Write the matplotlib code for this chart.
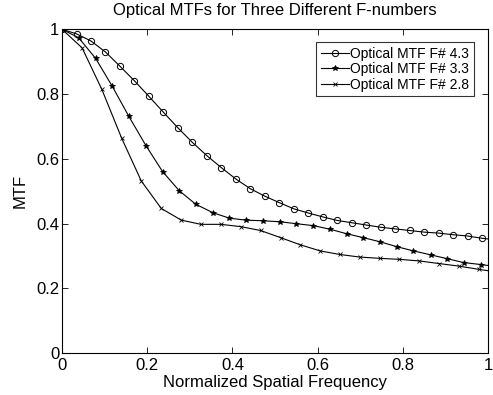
import matplotlib
matplotlib.use('Agg')
import matplotlib.pyplot as plt

plt.rcParams['font.family'] = ['Liberation Sans', 'DejaVu Sans']

# F# 4.3
freq_43 = [0.0, 0.034, 0.068, 0.102, 0.136, 0.170, 0.204, 0.238, 0.272, 0.306,
           0.340, 0.374, 0.408, 0.442, 0.476, 0.510, 0.544, 0.578, 0.612, 0.646,
           0.680, 0.714, 0.748, 0.782, 0.816, 0.850, 0.884, 0.918, 0.952, 0.986, 1.020]
mtf_43 = [1.0, 0.986, 0.964, 0.930, 0.886, 0.841, 0.793, 0.744, 0.696, 0.651,
          0.610, 0.573, 0.538, 0.508, 0.485, 0.465, 0.446, 0.433, 0.421, 0.410,
          0.403, 0.396, 0.389, 0.384, 0.379, 0.374, 0.371, 0.366, 0.362, 0.355, 0.350]

# F# 3.3
freq_33 = [0.0, 0.039, 0.079, 0.118, 0.157, 0.197, 0.236, 0.275, 0.314, 0.354,
           0.393, 0.432, 0.472, 0.511, 0.550, 0.590, 0.629, 0.668, 0.707, 0.747,
           0.786, 0.825, 0.865, 0.904, 0.943, 0.983, 1.022]
mtf_33 = [1.0, 0.974, 0.910, 0.824, 0.731, 0.641, 0.561, 0.502, 0.460, 0.434,
          0.417, 0.411, 0.409, 0.406, 0.400, 0.394, 0.383, 0.369, 0.357, 0.344,
          0.329, 0.316, 0.304, 0.292, 0.280, 0.274, 0.267]

# F# 2.8
freq_28 = [0.0, 0.047, 0.093, 0.140, 0.186, 0.233, 0.280, 0.326, 0.373, 0.419,
           0.466, 0.513, 0.559, 0.606, 0.652, 0.699, 0.746, 0.792, 0.839, 0.885,
           0.932, 0.979, 1.025]
mtf_28 = [1.0, 0.943, 0.816, 0.664, 0.532, 0.447, 0.411, 0.398, 0.398, 0.391,
          0.379, 0.357, 0.335, 0.316, 0.305, 0.297, 0.293, 0.290, 0.285, 0.277,
          0.269, 0.259, 0.250]

ticks = [0, 0.2, 0.4, 0.6, 0.8, 1]
tick_labels = ['0', '0.2', '0.4', '0.6', '0.8', '1']

fig = plt.figure(figsize=(4.93, 3.95), dpi=100)
ax = fig.add_axes([0.1258, 0.1056, 0.8641, 0.8202])

ax.plot(freq_43, mtf_43, color='k', lw=0.8, marker='o', ms=4.5, mfc='none', mew=0.7,
        label='Optical MTF F# 4.3')
ax.plot(freq_33, mtf_33, color='k', lw=0.8, marker='*', ms=4, mew=0.6,
        label='Optical MTF F# 3.3')
ax.plot(freq_28, mtf_28, color='k', lw=0.8, marker='x', ms=2.5, mew=0.6,
        label='Optical MTF F# 2.8')

ax.set_xlim(0, 1)
ax.set_ylim(0, 1)
ax.set_xticks(ticks)
ax.set_xticklabels(tick_labels)
ax.set_yticks(ticks)
ax.set_yticklabels(tick_labels)
ax.tick_params(direction='in', top=True, right=True, length=4, width=0.6,
               labelsize=12)
ax.tick_params(axis='x', pad=3.5)
ax.tick_params(axis='y', pad=2)
for s in ax.spines.values():
    s.set_linewidth(0.8)

ax.set_title('Optical MTFs for Three Different F-numbers', fontsize=12, pad=10.5)
ax.set_xlabel('Normalized Spatial Frequency', fontsize=12, labelpad=1.5)
ax.set_ylabel('MTF', fontsize=12, labelpad=6)

leg = ax.legend(loc='upper right', bbox_to_anchor=(0.967, 0.961), fontsize=10,
                frameon=True, fancybox=False, edgecolor='k', handlelength=2.0,
                handletextpad=0.1, borderpad=0.35, labelspacing=0.1,
                borderaxespad=0)
leg.get_frame().set_linewidth(0.8)

fig.savefig('out.png', dpi=100)
